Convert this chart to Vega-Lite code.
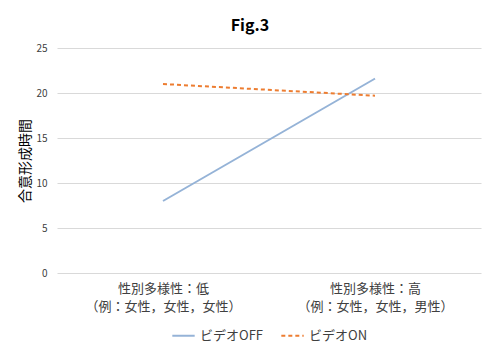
{
  "$schema": "https://vega.github.io/schema/vega-lite/v6.json",
  "width": 424,
  "height": 225,
  "autosize": {"type": "none"},
  "padding": {"left": 57, "top": 48, "right": 5, "bottom": 74},
  "background": "white",
  "title": {
    "text": "Fig.3",
    "anchor": "middle",
    "frame": "bounds",
    "fontSize": 16,
    "fontWeight": "bold",
    "color": "#000000",
    "font": "Noto Sans CJK JP",
    "offset": 9
  },
  "data": {
    "values": [
      {"diversity": "性別多様性：低\n（例：女性，女性，女性）", "video": "ビデオOFF", "time": 8.0},
      {"diversity": "性別多様性：高\n（例：女性，女性，男性）", "video": "ビデオOFF", "time": 21.6},
      {"diversity": "性別多様性：低\n（例：女性，女性，女性）", "video": "ビデオON", "time": 21.0},
      {"diversity": "性別多様性：高\n（例：女性，女性，男性）", "video": "ビデオON", "time": 19.7}
    ]
  },
  "mark": {"type": "line", "strokeWidth": 2},
  "encoding": {
    "x": {
      "field": "diversity",
      "type": "nominal",
      "sort": null,
      "scale": {"type": "point", "padding": 0.5},
      "axis": {
        "title": null,
        "labelAngle": 0,
        "labelExpr": "split(datum.label, '\\n')",
        "labelLineHeight": 18,
        "labelFontSize": 13,
        "labelColor": "#404040",
        "labelPadding": 9,
        "domain": false,
        "ticks": false,
        "grid": false
      }
    },
    "y": {
      "field": "time",
      "type": "quantitative",
      "scale": {"domain": [0, 25]},
      "axis": {
        "title": "合意形成時間",
        "titleFontSize": 14,
        "titleFontWeight": "normal",
        "titleColor": "#000000",
        "titlePadding": 3,
        "values": [0, 5, 10, 15, 20, 25],
        "labelFontSize": 10,
        "labelColor": "#404040",
        "labelPadding": 10,
        "domain": false,
        "ticks": false,
        "gridColor": "#d9d9d9",
        "gridWidth": 1
      }
    },
    "color": {
      "field": "video",
      "type": "nominal",
      "scale": {"domain": ["ビデオOFF", "ビデオON"], "range": ["#95b3d7", "#ed7d31"]},
      "legend": {
        "title": null,
        "orient": "bottom",
        "direction": "horizontal",
        "symbolType": "stroke",
        "symbolSize": 500,
        "symbolStrokeWidth": 2,
        "labelFontSize": 13,
        "labelColor": "#404040",
        "columnPadding": 14,
        "offset": 10
      }
    },
    "strokeDash": {
      "field": "video",
      "type": "nominal",
      "scale": {"domain": ["ビデオOFF", "ビデオON"], "range": [[1, 0], [4, 3]]},
      "legend": null
    }
  },
  "config": {
    "font": "Noto Sans CJK JP",
    "view": {"stroke": null},
    "legend": {"layout": {"bottom": {"anchor": "middle"}}}
  }
}
